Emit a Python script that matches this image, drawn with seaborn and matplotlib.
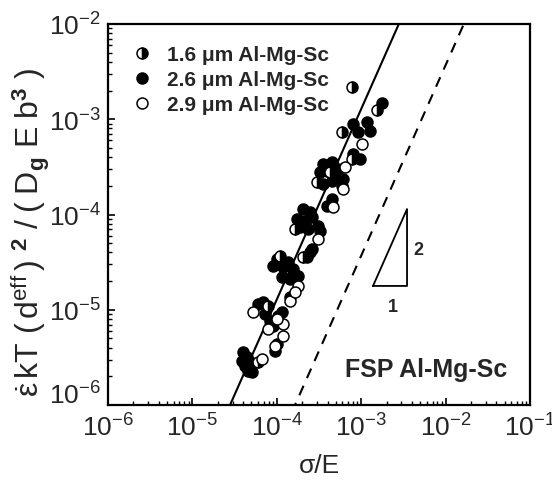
import numpy as np
import pandas as pd
import matplotlib
matplotlib.use("Agg")
import matplotlib.pyplot as plt
from matplotlib.lines import Line2D
from matplotlib.transforms import ScaledTranslation
import seaborn as sns

# ---- data (log10 values) ----
half_logx = [-3.109, -2.813, -3.227, -3.109, -3.370, -3.524, -3.784, -3.690, -4.223, -4.104, -3.962]
half_logy = [-2.663, -2.905, -3.135, -3.419, -3.555, -3.660, -4.153, -4.447, -5.549, -4.961, -4.437]

open_logx = [-2.991, -3.192, -3.216, -3.334, -3.512, -3.749, -3.844, -3.784, -3.927, -3.998,
             -4.282, -3.927, -4.021, -4.175, -4.104]
open_logy = [-3.261, -3.503, -3.733, -3.922, -4.258, -4.751, -4.909, -4.814, -5.150, -5.098,
             -5.024, -5.276, -5.381, -5.517, -5.203]

fill_logx = [-2.754, -3.097, -2.931, -2.896, -3.038, -3.097, -3.014, -3.453, -3.346, -3.275,
             -3.405, -3.488, -3.287, -3.216, -3.346, -3.227, -3.453, -3.346, -3.405, -3.690,
             -3.607, -3.761, -3.666, -3.583, -3.725, -3.630, -3.512, -3.488, -3.607, -3.642,
             -3.583, -3.998, -4.045, -3.927, -3.867, -3.808, -3.938, -3.844, -3.749, -3.844,
             -4.223, -4.164, -4.140, -4.081, -4.045, -3.986, -3.938, -4.021, -3.998, -4.400,
             -4.353, -4.412, -4.377, -4.318, -4.341, -4.294]
fill_logy = [-2.831, -3.051, -3.030, -3.125, -3.135, -3.366, -3.419, -3.471, -3.450, -3.524,
             -3.545, -3.555, -3.597, -3.629, -3.650, -3.702, -3.681, -3.838, -3.912, -3.943,
             -3.975, -4.048, -4.069, -4.027, -4.132, -4.153, -4.122, -4.174, -4.395, -4.447,
             -4.363, -4.468, -4.541, -4.552, -4.499, -4.573, -4.657, -4.678, -4.646, -4.867,
             -4.940, -4.919, -5.045, -5.119, -5.171, -5.066, -5.024, -5.433, -5.360, -5.444,
             -5.496, -5.538, -5.591, -5.549, -5.643, -5.654]

series_labels = ["1.6 \u03bcm Al-Mg-Sc", "2.6 \u03bcm Al-Mg-Sc", "2.9 \u03bcm Al-Mg-Sc"]

# slope-2 reference lines: y = coef * x^2
solid_log_coef = 3.108
dashed_log_coef = 1.568
line_exponent = 2

# slope triangle (log10 corners) and labels
tri_logx = [-2.860, -2.457, -2.457, -2.860]
tri_logy = [-4.750, -4.750, -3.943, -4.750]
tri_label2 = (-2.327, -4.363)
tri_label1 = (-2.623, -4.961)
fsp_pos = (-2.232, -5.622)

x_ticks_exp = [-6, -5, -4, -3, -2, -1]
y_ticks_exp = [-6, -5, -4, -3, -2]

# ---- style ----
sns.set_theme(style="white")
plt.rcParams["font.family"] = ["Liberation Sans", "DejaVu Sans"]
plt.rcParams["mathtext.fontset"] = "custom"
plt.rcParams["mathtext.rm"] = "Liberation Sans"
plt.rcParams["mathtext.it"] = "Liberation Sans:italic"
plt.rcParams["mathtext.bf"] = "Liberation Sans:bold"

df_fill = pd.DataFrame({"x": 10 ** np.array(fill_logx), "y": 10 ** np.array(fill_logy)})
df_open = pd.DataFrame({"x": 10 ** np.array(open_logx), "y": 10 ** np.array(open_logy)})
df_half = pd.DataFrame({"x": 10 ** np.array(half_logx), "y": 10 ** np.array(half_logy)})

fig = plt.figure(figsize=(5.52, 4.81), dpi=100)
ax = fig.add_axes([108 / 552, 1 - 406 / 481, 422 / 552, 381 / 481])
ax.set_xscale("log")
ax.set_yscale("log")

xs = np.logspace(-6, -1, 400)
ax.plot(xs, 10 ** solid_log_coef * xs ** line_exponent, color="black", lw=1.5, zorder=2)
ax.plot(xs, 10 ** dashed_log_coef * xs ** line_exponent, color="black", lw=1.5,
        ls=(0, (5, 4)), zorder=2)

msize = 7.9
sns.scatterplot(data=df_fill, x="x", y="y", marker="o", s=msize ** 2, color="black",
                edgecolor="black", linewidth=1.1, ax=ax, zorder=3, legend=False)
ax.plot(df_half["x"], df_half["y"], ls="none", marker="o", ms=msize, fillstyle="right",
        mfc="black", markerfacecoloralt="white", mec="black", mew=1.1, zorder=4)
sns.scatterplot(data=df_open, x="x", y="y", marker="o", s=msize ** 2, facecolor="white",
                edgecolor="black", linewidth=1.1, ax=ax, zorder=5, legend=False)

# triangle
ax.plot(10 ** np.array(tri_logx), 10 ** np.array(tri_logy), color="black", lw=1.3, zorder=2)
ax.text(10 ** tri_label2[0], 10 ** tri_label2[1], "2", fontsize=13, fontweight="bold",
        ha="center", va="center")
ax.text(10 ** tri_label1[0], 10 ** tri_label1[1], "1", fontsize=13, fontweight="bold",
        ha="center", va="center")
ax.text(10 ** fsp_pos[0], 10 ** fsp_pos[1], "FSP Al-Mg-Sc", fontsize=18, fontweight="bold",
        ha="center", va="center")

ax.set_xlim(1e-6, 1e-1)
ax.set_ylim(1e-6, 1e-2)
ax.set_xticks([10.0 ** e for e in x_ticks_exp])
ax.set_yticks([10.0 ** e for e in y_ticks_exp])
ax.tick_params(which="both", direction="in", top=False, right=False, bottom=True, left=True,
               color="black")
ax.tick_params(which="major", length=5, width=1.2, labelsize=19, pad=6)
ax.tick_params(axis="y", which="major", pad=5)
ax.tick_params(which="minor", length=2.6, width=1.0)
for sp in ax.spines.values():
    sp.set_color("black")
    sp.set_linewidth(1.6)

# lift the lowest y tick label so it sits above the x tick labels, as in the reference
low_tick = ax.yaxis.get_major_ticks()[0]
low_tick.label1.set_transform(low_tick.label1.get_transform()
                              + ScaledTranslation(0, 12 / 100, fig.dpi_scale_trans))

ax.set_xlabel("\u03c3/E", fontsize=19, labelpad=9)
ax.set_ylabel(r"$\dot{\mathrm{\varepsilon}}\,\mathrm{kT}\ (\,\mathrm{d}^{\mathrm{eff}}\,)"
              r"\ ^{\mathbf{2}}\ /\;(\;\mathrm{D}_{\mathbf{g}}\ \mathrm{E}\;\mathrm{b}^{\mathbf{3}}\ )$",
              fontsize=23)
ax.yaxis.set_label_coords(-0.132, 0.455)

handles = [
    Line2D([], [], ls="none", marker="o", ms=msize, fillstyle="right", mfc="black",
           markerfacecoloralt="white", mec="black", mew=1.1),
    Line2D([], [], ls="none", marker="o", ms=msize, mfc="black", mec="black", mew=1.1),
    Line2D([], [], ls="none", marker="o", ms=msize, mfc="white", mec="black", mew=1.1),
]
leg = ax.legend(handles, series_labels, loc="upper left", bbox_to_anchor=(0.056, 0.945),
                frameon=False, prop={"weight": "bold", "size": 15}, handlelength=1.0,
                handletextpad=0.7, labelspacing=0.3, borderpad=0, borderaxespad=0)

fig.savefig("out.png", dpi=100)
